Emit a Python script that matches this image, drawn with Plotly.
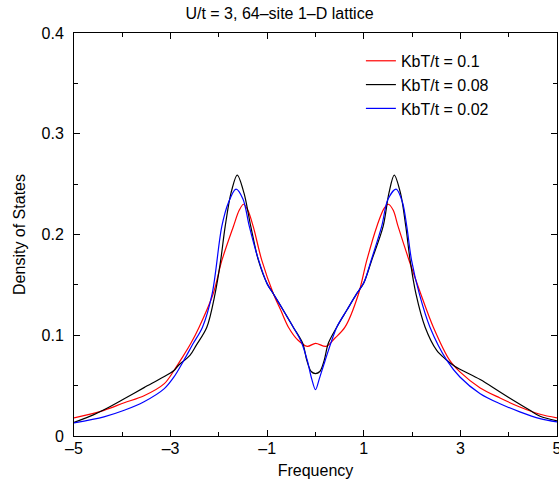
import plotly.graph_objects as go

# Frequency / density-of-states readings for each temperature
freq_k010 = [-5.0, -4.38, -3.96, -3.55, -3.13, -2.93, -2.77, -2.58, -2.41, -2.12, -1.94, -1.70, -1.58, -1.49, -1.40,
             -1.29, -1.11, -0.87, -0.72, -0.56, -0.36, -0.17, 0.0, 0.22, 0.40, 0.61, 0.89, 1.06, 1.27, 1.42, 1.51,
             1.61, 1.71, 1.94, 2.18, 2.44, 2.78, 2.99, 3.41, 3.82, 4.23, 4.65, 5.0]
dos_k010 = [0.018, 0.0255, 0.033, 0.040, 0.052, 0.065, 0.077, 0.092, 0.108, 0.141, 0.174, 0.208, 0.224, 0.230, 0.224,
            0.208, 0.174, 0.141, 0.125, 0.108, 0.095, 0.089, 0.092, 0.089, 0.097, 0.108, 0.141, 0.174, 0.208, 0.226, 0.230,
            0.224, 0.208, 0.174, 0.141, 0.108, 0.075, 0.0636, 0.0477, 0.0377, 0.0288, 0.0216, 0.018]

freq_k008 = [-5.0, -4.6, -4.38, -3.96, -3.55, -3.13, -2.93, -2.84, -2.6, -2.47, -2.25, -2.08, -1.97, -1.87, -1.75,
             -1.62, -1.48, -1.34, -1.18, -1.0, -0.87, -0.67, -0.46, -0.265, -0.18, -0.09, 0.0, 0.09, 0.18, 0.265, 0.44,
             0.65, 0.85, 1.0, 1.16, 1.40, 1.52, 1.63, 1.76, 1.87, 1.96, 2.08, 2.27, 2.51, 2.7, 2.89, 3.0, 3.41, 3.82,
             4.23, 4.44, 4.65, 5.0]
dos_k008 = [0.0135, 0.021, 0.026, 0.037, 0.048, 0.059, 0.065, 0.070, 0.080, 0.090, 0.108, 0.141, 0.172, 0.208, 0.241,
            0.259, 0.241, 0.208, 0.174, 0.151, 0.141, 0.125, 0.108, 0.092, 0.075, 0.064, 0.062, 0.064, 0.075, 0.092, 0.108,
            0.125, 0.141, 0.152, 0.174, 0.208, 0.241, 0.259, 0.241, 0.208, 0.174, 0.141, 0.108, 0.085, 0.076, 0.069, 0.066,
            0.056, 0.0437, 0.0315, 0.0255, 0.0196, 0.015]

freq_k002 = [-5.0, -4.38, -3.96, -3.55, -3.13, -2.93, -2.75, -2.53, -2.34, -2.14, -1.94, -1.8, -1.646, -1.5,
             -1.37, -1.2, -1.0, -0.87, -0.67, -0.46, -0.3, -0.17, -0.08, 0.0, 0.08, 0.2, 0.44, 0.65, 0.85, 1.0, 1.15,
             1.37, 1.5, 1.67, 1.8, 1.89, 1.99, 2.15, 2.37, 2.72, 2.99, 3.41, 3.82, 4.23, 4.65, 5.0]
dos_k002 = [0.013, 0.019, 0.0255, 0.034, 0.047, 0.0586, 0.073, 0.092, 0.108, 0.141, 0.208, 0.232, 0.245, 0.235,
            0.208, 0.178, 0.151, 0.141, 0.125, 0.108, 0.094, 0.075, 0.057, 0.046, 0.057, 0.075, 0.108, 0.125, 0.141, 0.152,
            0.174, 0.208, 0.235, 0.245, 0.232, 0.208, 0.174, 0.141, 0.108, 0.075, 0.0586, 0.042, 0.032, 0.024, 0.0173, 0.0140]

series_names = ["KbT/t = 0.1", "KbT/t = 0.08", "KbT/t = 0.02"]
series_colors = ["#ff0000", "#000000", "#0000ff"]

x_tick_vals = [-5, -3, -1, 1, 3, 5]
x_tick_text = ["\u20135", "\u20133", "\u20131", "1", "3", "5"]
y_tick_vals = [0, 0.1, 0.2, 0.3, 0.4]
y_tick_text = ["0", "0.1", "0.2", "0.3", "0.4"]

FONT = "Liberation Sans, Arial, sans-serif"

fig = go.Figure()
for fx, fy, name, col in zip([freq_k010, freq_k008, freq_k002], [dos_k010, dos_k008, dos_k002],
                             series_names, series_colors):
    fig.add_trace(go.Scatter(x=fx, y=fy, mode="lines", name=name,
                             line=dict(color=col, width=1.2, shape="spline", smoothing=0.9)))

axis_common = dict(showline=True, linecolor="black", linewidth=1, mirror="allticks",
                   ticks="inside", ticklen=6, tickcolor="black", tickwidth=1,
                   showgrid=False, zeroline=False, automargin=False,
                   ticklabeloverflow="allow",
                   tickfont=dict(family=FONT, size=16, color="black"))

fig.update_xaxes(range=[-5, 5], tickvals=x_tick_vals, ticktext=x_tick_text,
                 minor=dict(ticks="inside", ticklen=4, dtick=1, tick0=0, tickcolor="black", showgrid=False),
                 title=dict(text="Frequency", font=dict(family=FONT, size=16, color="black"), standoff=8),
                 ticklabelstandoff=-2,
                 **axis_common)
fig.update_yaxes(range=[0, 0.4], tickvals=y_tick_vals, ticktext=y_tick_text,
                 minor=dict(ticks="inside", ticklen=4, dtick=0.05, tick0=0, tickcolor="black", showgrid=False),
                 title=dict(text="Density of States", font=dict(family=FONT, size=16, color="black"), standoff=11),
                 ticklabelstandoff=6,
                 **axis_common)

fig.update_layout(
    width=559, height=486,
    margin=dict(l=74, r=2, t=33, b=50),
    paper_bgcolor="white", plot_bgcolor="white",
    font=dict(family=FONT, size=16, color="black"),
    title=dict(text="U/t = 3, 64\u2013site 1\u2013D lattice", x=0.5, xref="container", xanchor="center",
               y=1 - 13 / 486, yref="container", yanchor="middle",
               font=dict(family=FONT, size=16, color="black")),
    legend=dict(x=0.594, y=0.973, xanchor="left", yanchor="top", bgcolor="rgba(0,0,0,0)",
                borderwidth=0, font=dict(family=FONT, size=16, color="black"), tracegroupgap=0),
    showlegend=True,
)

fig.write_html("out.html", config={"displayModeBar": False},
               post_script="document.body.style.margin='0';document.body.style.overflow='hidden';")
